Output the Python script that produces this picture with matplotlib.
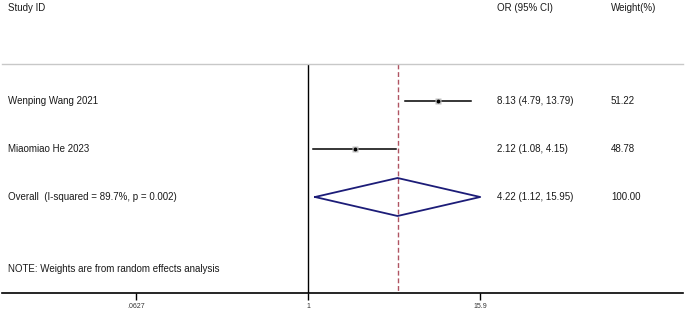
import numpy as np
import matplotlib.pyplot as plt

plt.rcParams['font.family'] = ['Liberation Sans', 'DejaVu Sans']

studies = ['Wenping Wang 2021', 'Miaomiao He 2023']
or_vals = [8.13, 2.12]
ci_low = [4.79, 1.08]
ci_high = [13.79, 4.15]
weights = ['51.22', '48.78']

overall_label = 'Overall  (I-squared = 89.7%, p = 0.002)'
overall_or = 4.22
overall_low = 1.12
overall_high = 15.95
overall_weight = '100.00'

tick_vals = [0.0627, 1, 15.9]
tick_labels = ['.0627', '1', '15.9']

W, H = 685, 309
fig = plt.figure(figsize=(W / 100, H / 100), dpi=100)

# axes spans the plot band (pixels 64..293 vertically)
ax = fig.add_axes([2 / W, 16 / H, 681 / W, 229 / H])
ax.set_xscale('log')
ax.set_xlim(np.exp(-4.92), np.exp(6.03))
ax.set_ylim(293, 64)

for s in ['left', 'right']:
    ax.spines[s].set_visible(False)
ax.spines['top'].set_color('#c8c8c8')
ax.spines['top'].set_linewidth(1.0)
ax.spines['bottom'].set_linewidth(1.2)
ax.set_yticks([])
ax.set_xticks(tick_vals)
ax.set_xticklabels(tick_labels, fontsize=5, color='#333333')
ax.minorticks_off()
ax.tick_params(axis='x', length=5, width=1.0, pad=2)

row_y = [101 + 48 * i for i in range(len(studies) + 1)]

# null line and overall dashed line
ax.axvline(1, color='black', lw=1.0)
ax.plot([overall_or, overall_or], [64, 291], color='#b05462', lw=1.0,
        ls=(0, (3.5, 2)))

col_x = {'label': 8, 'or': 497, 'w': 611}
fs = 7
tc = '#1a1a1a'

for i, name in enumerate(studies):
    y = row_y[i]
    ax.plot([ci_low[i], ci_high[i]], [y, y], color='black', lw=1.1)
    ax.plot(or_vals[i], y, marker='s', ms=4, color='#c0c0c0', mec='none')
    ax.plot(or_vals[i], y, marker='o', ms=2.8, color='black', mec='none')
    fig.text(col_x['label'] / W, 1 - y / H, name, fontsize=fs, va='center', color=tc)
    fig.text(col_x['or'] / W, 1 - y / H,
             f'{or_vals[i]:.2f} ({ci_low[i]:.2f}, {ci_high[i]:.2f})',
             fontsize=fs, va='center', color=tc)
    fig.text(col_x['w'] / W, 1 - y / H, weights[i], fontsize=fs, va='center', color=tc)

# overall diamond
y = row_y[-1]
half = 19
ax.plot([overall_low, overall_or, overall_high, overall_or, overall_low],
        [y, y - half, y, y + half, y], color='#1c1c78', lw=1.3)
fig.text(col_x['label'] / W, 1 - y / H, overall_label, fontsize=fs, va='center', color=tc)
fig.text(col_x['or'] / W, 1 - y / H,
         f'{overall_or:.2f} ({overall_low:.2f}, {overall_high:.2f})',
         fontsize=fs, va='center', color=tc)
fig.text(col_x['w'] / W, 1 - y / H, overall_weight, fontsize=fs, va='center', color=tc)

# header and note
fig.text(col_x['label'] / W, 1 - 8 / H, 'Study ID', fontsize=fs, va='center', color=tc)
fig.text(col_x['or'] / W, 1 - 8 / H, 'OR (95% CI)', fontsize=fs, va='center', color=tc)
fig.text(col_x['w'] / W, 1 - 8 / H, 'Weight(%)', fontsize=fs, va='center', color=tc)
fig.text(col_x['label'] / W, 1 - 269 / H,
         'NOTE: Weights are from random effects analysis', fontsize=fs, va='center', color=tc)

fig.savefig('out.png', dpi=100)
